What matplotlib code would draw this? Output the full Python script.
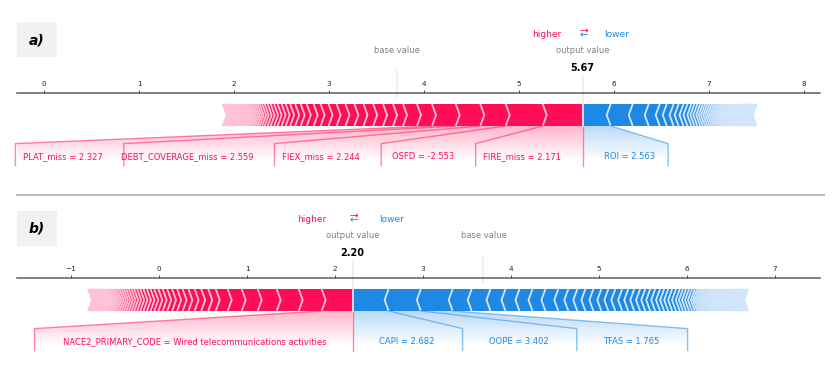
import numpy as np
import matplotlib
matplotlib.use('Agg')
import matplotlib.pyplot as plt
from matplotlib.lines import Line2D
from matplotlib.path import Path
from matplotlib.patches import PathPatch, Rectangle
from matplotlib.colors import LinearSegmentedColormap

# ---- panel a) ----
a_out_value = 5.67
a_pos_labels = ['FIRE_miss = 2.171', 'OSFD = -2.553', 'FIEX_miss = 2.244',
                'DEBT_COVERAGE_miss = 2.559', 'PLAT_miss = 2.327']
a_pos_effects = [0.421, 0.389, 0.268, 0.258, 0.250]
a_pos_rest = [0.158, 0.147, 0.105, 0.105, 0.104, 0.102, 0.096, 0.094, 0.093, 0.085,
              0.083, 0.074, 0.072, 0.064, 0.058, 0.053, 0.047, 0.043, 0.042, 0.037,
              0.036, 0.032, 0.031, 0.027, 0.026,
              0.022, 0.021, 0.020, 0.019, 0.018, 0.017, 0.016, 0.015, 0.015, 0.014,
              0.014, 0.013, 0.013, 0.012, 0.012, 0.011, 0.011, 0.010, 0.010, 0.010,
              0.009, 0.009, 0.009, 0.008, 0.008, 0.008, 0.007, 0.007, 0.007, 0.006,
              0.006, 0.006, 0.006]
a_neg_labels = ['ROI = 2.563']
a_neg_effects = [0.295]
a_neg_rest = [0.232, 0.168, 0.116, 0.074, 0.072, 0.053, 0.051, 0.042, 0.041, 0.032,
              0.031, 0.030, 0.026, 0.025, 0.024, 0.023, 0.022, 0.021, 0.020, 0.019,
              0.018, 0.017,
              0.016, 0.015, 0.015, 0.014, 0.014, 0.013, 0.013, 0.012, 0.012, 0.012,
              0.011, 0.011, 0.011, 0.010, 0.010, 0.010, 0.010, 0.009, 0.009, 0.009,
              0.009, 0.008, 0.008, 0.008, 0.008, 0.007, 0.007, 0.007, 0.007, 0.006,
              0.006, 0.006, 0.006, 0.005, 0.005, 0.005, 0.005, 0.005, 0.005, 0.004,
              0.004, 0.004, 0.004, 0.004]
a_ticks = [0, 1, 2, 3, 4, 5, 6, 7, 8]

# ---- panel b) ----
b_out_value = 2.20
b_pos_labels = ['NACE2_PRIMARY_CODE = Wired telecommunications activities']
b_pos_effects = [0.352]
b_pos_rest = [0.261, 0.250, 0.216, 0.182, 0.159, 0.136, 0.085, 0.080, 0.075, 0.070,
              0.066, 0.062, 0.058, 0.055, 0.052, 0.049, 0.046, 0.043, 0.041, 0.039,
              0.037, 0.035, 0.033, 0.031, 0.030, 0.028, 0.027, 0.026, 0.025, 0.024,
              0.022, 0.020, 0.019, 0.018, 0.017, 0.016, 0.015, 0.014, 0.013, 0.012,
              0.012, 0.011, 0.011, 0.010, 0.010, 0.009, 0.009, 0.008, 0.008, 0.008,
              0.007, 0.007, 0.006, 0.006, 0.006, 0.005, 0.005, 0.005, 0.005, 0.005,
              0.005, 0.005, 0.005]
b_neg_labels = ['CAPI = 2.682', 'OOPE = 3.402', 'TFAS = 1.765']
b_neg_effects = [0.409, 0.366, 0.362]
b_neg_rest = [0.216, 0.214, 0.170, 0.159, 0.148, 0.147, 0.146, 0.114, 0.102, 0.092,
              0.091, 0.090, 0.080, 0.079, 0.078, 0.069, 0.068, 0.067, 0.058, 0.057,
              0.056, 0.055, 0.047, 0.046, 0.045, 0.044, 0.043, 0.036, 0.035, 0.034,
              0.033, 0.032, 0.025,
              0.022, 0.021, 0.020, 0.019, 0.019, 0.018, 0.018, 0.017, 0.017, 0.016,
              0.016, 0.015, 0.015, 0.014, 0.014, 0.013, 0.013, 0.013, 0.012, 0.012,
              0.012, 0.011, 0.011, 0.011, 0.010, 0.010, 0.010, 0.010, 0.009, 0.009,
              0.009, 0.009, 0.008, 0.008, 0.008, 0.008, 0.007, 0.007, 0.007, 0.007,
              0.006, 0.006, 0.006, 0.006, 0.005, 0.005, 0.005, 0.005, 0.004, 0.004,
              0.004, 0.004, 0.004, 0.004, 0.004, 0.004]
b_ticks = [-1, 0, 1, 2, 3, 4, 5, 6, 7]

RED, RED_L = '#FF0D57', '#FFC3D5'
BLUE, BLUE_L = '#1E88E5', '#D1E6FA'
WIDTH_BAR = 0.1
LABEL_SIZE = 6


def draw_bars(ax, out_value, effects, sign, indent):
    col, light = (RED, RED_L) if sign > 0 else (BLUE, BLUE_L)
    ind = sign * indent
    rects, seps = [], []
    pre = out_value
    for i, e in enumerate(effects):
        cur = pre - sign * e
        if i == 0:
            pts = [[cur, 0], [pre, 0], [pre, WIDTH_BAR], [cur, WIDTH_BAR], [cur + ind, WIDTH_BAR / 2]]
        else:
            pts = [[cur, 0], [pre, 0], [pre + ind * 0.9, WIDTH_BAR / 2], [pre, WIDTH_BAR],
                   [cur, WIDTH_BAR], [cur + ind * 0.9, WIDTH_BAR / 2]]
        rects.append(plt.Polygon(pts, closed=True, facecolor=col, linewidth=0))
        seps.append(plt.Polygon([[cur, 0], [cur + ind, WIDTH_BAR / 2], [cur, WIDTH_BAR]],
                                closed=False, fill=False, edgecolor=light, lw=1.3))
        pre = cur
    return rects, seps


def draw_labels(fig, ax, out_value, effects, labels, sign, offset_text, wscale):
    col = RED if sign > 0 else BLUE
    ha = 'right' if sign > 0 else 'left'
    renderer = fig.canvas.get_renderer()
    inv = ax.transData.inverted()
    if sign > 0:
        ax.add_line(Line2D([out_value, out_value], [0, -0.18], lw=1.0, alpha=0.5,
                           color=col, clip_on=False))
    start_text = out_value
    box_end = out_value
    pre = out_value
    for e, txt in zip(effects, labels):
        val = pre - sign * e
        x0 = start_text - sign * offset_text
        t = ax.text(x0, -0.15, txt, fontsize=LABEL_SIZE, color=col, ha=ha, va='baseline')
        bb = t.get_window_extent(renderer)
        p = inv.transform([[bb.x0, 0], [bb.x1, 0]])
        w = p[1][0] - p[0][0]
        edge = x0 - sign * (w * wscale + 0.02)
        if sign * edge > sign * val:
            ax.add_line(Line2D([val, val], [0, -0.18], lw=1.0, alpha=0.5, color=col, clip_on=False))
            start_text = val
            box_end = val
        else:
            box_end = edge - sign * offset_text
            ax.add_line(Line2D([val, box_end, box_end], [0, -0.08, -0.18], lw=1.0, alpha=0.5,
                               color=col, clip_on=False))
            start_text = box_end
        pre = val

    # fading shade below the bar, under the labels
    path = Path([[out_value, 0], [pre, 0], [box_end, -0.08], [box_end, -0.2],
                 [out_value, -0.2], [out_value, 0]])
    patch = PathPatch(path, facecolor='none', edgecolor='none')
    ax.add_patch(patch)
    rgb = np.array([matplotlib.colors.to_rgb(col), (1, 1, 1)])
    cm = LinearSegmentedColormap.from_list('cm', rgb)
    Z = np.repeat(np.linspace(-10, 10, 50)[:, None], 50, axis=1)
    im = ax.imshow(Z, interpolation='quadric', cmap=cm, vmax=0.01, alpha=0.3, origin='lower',
                   extent=[out_value, box_end, 0, -0.31], aspect='auto', zorder=0.5)
    im.set_clip_path(patch)


def force_plot(fig, rect, out_value, pos, pos_labels, neg, neg_labels, xlim, ticks, wscale):
    ax = fig.add_axes(rect)
    ax.set_xlim(*xlim)
    ax.set_ylim(-0.3, 0.15)
    total_pos = sum(pos)
    total_neg = sum(neg)
    base_value = out_value - total_pos + total_neg
    offset_text = (total_pos + total_neg) * 0.04
    indent = (xlim[1] - xlim[0]) / 200

    r1, s1 = draw_bars(ax, out_value, neg, -1, indent)
    r2, s2 = draw_bars(ax, out_value, pos, 1, indent)
    for p in r1 + s1 + r2 + s2:
        ax.add_patch(p)

    draw_labels(fig, ax, out_value, neg[:len(neg_labels)], neg_labels, -1, offset_text, wscale)
    draw_labels(fig, ax, out_value, pos[:len(pos_labels)], pos_labels, 1, offset_text, wscale)

    # higher / lower legend
    ax.text(out_value - offset_text, 0.405, 'higher', fontsize=6.5, color=RED, ha='right')
    ax.text(out_value + offset_text, 0.405, 'lower', fontsize=6.5, color=BLUE, ha='left')
    ax.text(out_value, 0.402, r'$\leftarrow$', fontsize=7.5, color=BLUE, ha='center')
    ax.text(out_value, 0.422, r'$\rightarrow$', fontsize=7.5, color=RED, ha='center')

    # base value
    ax.add_line(Line2D([base_value, base_value], [0.13, 0.25], lw=1.2, color='#EBEBEB', clip_on=False))
    t = ax.text(base_value, 0.33, 'base value', fontsize=6, alpha=0.5, ha='center')
    t.set_bbox(dict(facecolor='white', edgecolor='white', pad=1))

    # output value
    ax.add_line(Line2D([out_value, out_value], [0, 0.24], lw=1.2, color='#EBEBEB', clip_on=False))
    t = ax.text(out_value, 0.25, f'{out_value:.2f}', fontsize=7, fontweight='bold', ha='center')
    t.set_bbox(dict(facecolor='white', edgecolor='white', pad=1))
    t = ax.text(out_value, 0.33, 'output value', fontsize=6, alpha=0.5, ha='center')
    t.set_bbox(dict(facecolor='white', edgecolor='white', pad=1))

    ax.set_xlim(*xlim)
    ax.set_ylim(-0.3, 0.15)
    ax.set_xticks(ticks)
    ax.tick_params(top=True, bottom=False, left=False, right=False, labelleft=False,
                   labeltop=True, labelbottom=False, labelsize=5.2, length=2, width=0.6,
                   pad=2.5, colors='#222222')
    for key, sp in ax.spines.items():
        if key != 'top':
            sp.set_visible(False)
    ax.spines['top'].set_color('#5E5E5E')
    ax.spines['top'].set_linewidth(1.1)
    ax.set_yticks([])
    ax.patch.set_alpha(0)
    return ax


W, H = 833, 374
fig = plt.figure(figsize=(W / 100, H / 100), dpi=100)


def rect_px(left, top, width, height):
    return [left / W, (H - top - height) / H, width / W, height / H]


force_plot(fig, rect_px(17, 93, 803, 99), a_out_value,
           a_pos_effects + a_pos_rest, a_pos_labels,
           a_neg_effects + a_neg_rest, a_neg_labels,
           (-0.284, 8.168), a_ticks, 0.8)
force_plot(fig, rect_px(17, 278, 803, 99), b_out_value,
           b_pos_effects + b_pos_rest, b_pos_labels,
           b_neg_effects + b_neg_rest, b_neg_labels,
           (-1.614, 7.511), b_ticks, 1.0)

# separator between the two plots
fig.add_artist(Line2D([17 / W, 824 / W], [1 - 194.5 / H, 1 - 194.5 / H], lw=1.5,
                      color='#BDBDBD', transform=fig.transFigure))

# panel letters
for letter, top in [('a)', 22), ('b)', 211)]:
    fig.add_artist(Rectangle((17 / W, 1 - (top + 35) / H), 40 / W, 35 / H,
                             transform=fig.transFigure, facecolor='#F0F1F1', edgecolor='none'))
    fig.text(37 / W, 1 - (top + 18) / H, letter, fontsize=10, fontweight='bold',
             fontstyle='italic', ha='center', va='center')

fig.savefig('out.png', dpi=100)
